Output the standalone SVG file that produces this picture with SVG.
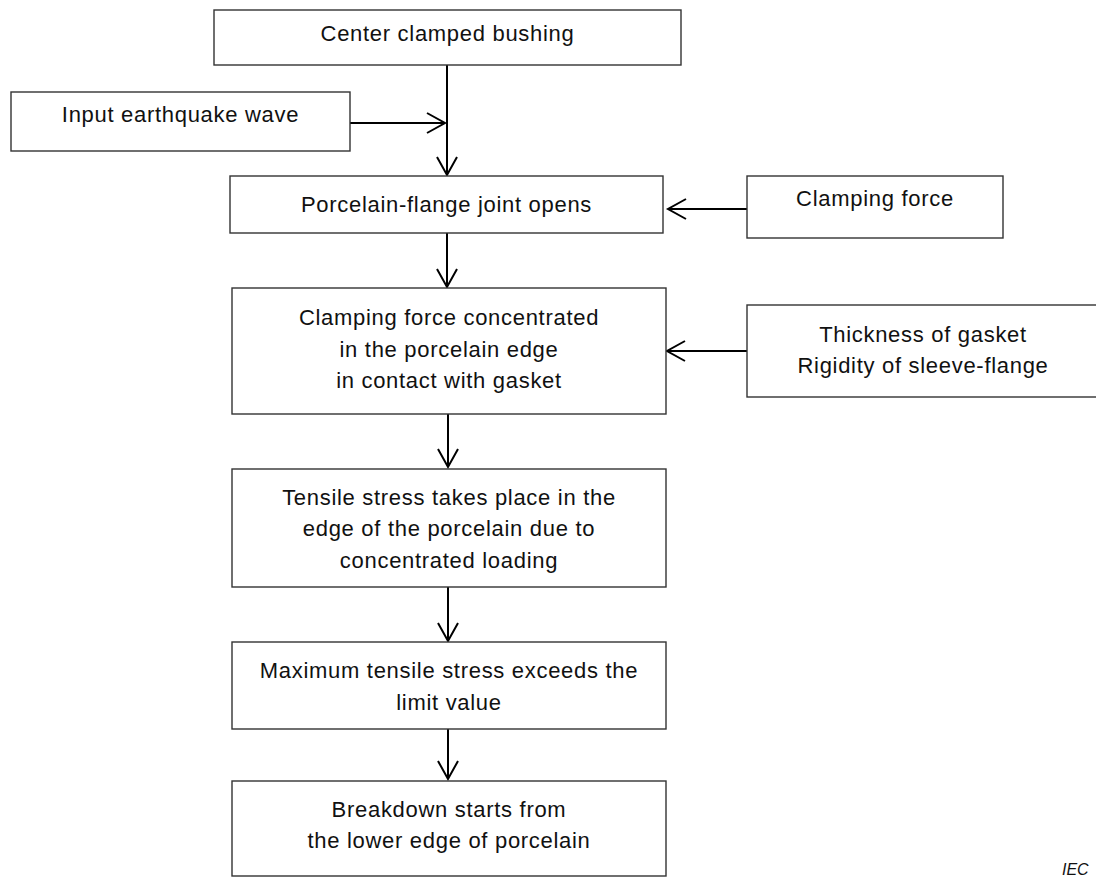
<svg xmlns="http://www.w3.org/2000/svg" width="1096" height="877" viewBox="0 0 1096 877">
  <defs>
    <marker id="arr" markerUnits="userSpaceOnUse" markerWidth="40" markerHeight="40" refX="0" refY="0" orient="auto" overflow="visible">
      <path d="M-18,-10 L0,0 L-18,10" fill="none" stroke="#000" stroke-width="2"/>
    </marker>
  </defs>
  <style>
    .box { fill: #fff; stroke: #333; stroke-width: 1.4; }
    .t { font-family: "Liberation Sans", Arial, sans-serif; font-size: 22px; letter-spacing: 0.7px; fill: #111; text-anchor: middle; }
    .c { stroke: #000; stroke-width: 2; fill: none; marker-end: url(#arr); }
    .iec { font-family: "Liberation Sans", Arial, sans-serif; font-size: 16px; font-style: italic; fill: #111; }
  </style>
  <rect width="1096" height="877" fill="#fff"/>

  <g id="connectors">
    <line class="c" x1="447" y1="65" x2="447" y2="175"/>
    <line class="c" x1="350" y1="123" x2="445" y2="123"/>
    <line class="c" x1="747" y1="209" x2="668" y2="209"/>
    <line class="c" x1="447" y1="233" x2="447" y2="287"/>
    <line class="c" x1="747" y1="351" x2="667" y2="351"/>
    <line class="c" x1="448" y1="414" x2="448" y2="467"/>
    <line class="c" x1="448" y1="587" x2="448" y2="641"/>
    <line class="c" x1="448" y1="725" x2="448" y2="779"/>
  </g>

  <g id="n-bushing">
    <rect class="box" x="214" y="10" width="467" height="55"/>
    <text class="t" x="447.5" y="41">Center clamped bushing</text>
  </g>
  <g id="n-input">
    <rect class="box" x="11" y="92" width="339" height="59"/>
    <text class="t" x="180.5" y="122">Input earthquake wave</text>
  </g>
  <g id="n-joint">
    <rect class="box" x="230" y="176" width="433" height="57"/>
    <text class="t" x="446.5" y="212">Porcelain-flange joint opens</text>
  </g>
  <g id="n-clampforce">
    <rect class="box" x="747" y="176" width="256" height="62"/>
    <text class="t" x="875" y="206">Clamping force</text>
  </g>
  <g id="n-concentrated">
    <rect class="box" x="232" y="288" width="434" height="126"/>
    <text class="t" x="449" y="325">Clamping force concentrated</text>
    <text class="t" x="449" y="356.5">in the porcelain edge</text>
    <text class="t" x="449" y="388">in contact with gasket</text>
  </g>
  <g id="n-gasket">
    <rect class="box" x="747" y="305" width="352" height="92"/>
    <text class="t" x="923" y="342">Thickness of gasket</text>
    <text class="t" x="923" y="373">Rigidity of sleeve-flange</text>
  </g>
  <g id="n-tensile">
    <rect class="box" x="232" y="469" width="434" height="118"/>
    <text class="t" x="449" y="504.5">Tensile stress takes place in the</text>
    <text class="t" x="449" y="536">edge of the porcelain due to</text>
    <text class="t" x="449" y="567.5">concentrated loading</text>
  </g>
  <g id="n-maximum">
    <rect class="box" x="232" y="642" width="434" height="87"/>
    <text class="t" x="449" y="678">Maximum tensile stress exceeds the</text>
    <text class="t" x="449" y="710">limit value</text>
  </g>
  <g id="n-breakdown">
    <rect class="box" x="232" y="781" width="434" height="95"/>
    <text class="t" x="449" y="817">Breakdown starts from</text>
    <text class="t" x="449" y="848">the lower edge of porcelain</text>
  </g>

  <text class="iec" x="1062" y="875">IEC</text>
</svg>
